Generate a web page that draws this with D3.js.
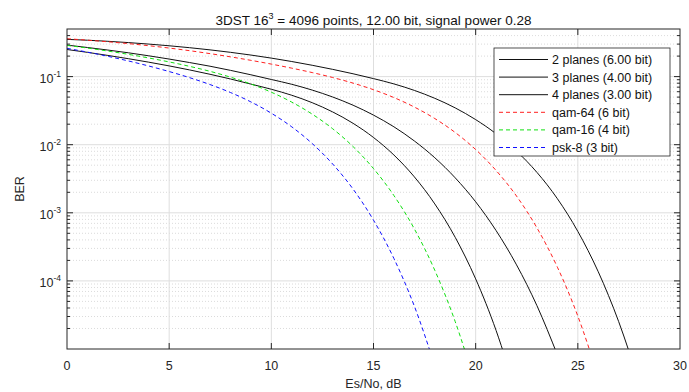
<!DOCTYPE html>
<html>
<head>
<meta charset="utf-8">
<title>3DST BER</title>
<script src="https://d3js.org/d3.v7.min.js"></script>
<style>
  body { margin: 0; background: #fff; }
  svg { display: block; font-family: "Liberation Sans", Arial, Helvetica, sans-serif; }
</style>
</head>
<body>
<div id="chart"></div>
<script>
// ---- data ----
const esnoPlanes2 = [0,1,2,3,4,5,6,7,8,9,10,11,12,13,14,15,16,17,18,19,20,21,22,23,24,25,26,27,28];
const berPlanes2  = [0.352,0.3423,0.3299,0.3158,0.3002,0.2835,0.2658,0.2469,0.2272,0.2072,0.1868,0.1665,0.1467,0.1278,0.1100,0.0934,0.0781,0.0627,0.0480,0.0347,0.02336,0.01447,0.00804,0.00392,0.00161,5.33e-4,1.36e-4,2.52e-5,3.2e-6];

const esnoPlanes3 = [0,1,2,3,4,5,6,7,8,9,10,11,12,13,14,15,16,17,18,19,20,21,22,23,24];
const berPlanes3  = [0.290,0.2675,0.2454,0.2237,0.2020,0.1810,0.1608,0.1420,0.1235,0.1063,0.0907,0.0771,0.0634,0.0502,0.0380,0.0272,0.0183,0.01135,0.00643,0.00326,0.00145,5.48e-4,1.72e-4,4.32e-5,8.2e-6];

const esnoPlanes4 = [0,1,2,3,4,5,6,7,8,9,10,11,12,13,14,15,16,17,18,19,20,21,22];
const berPlanes4  = [0.250,0.227,0.2046,0.1832,0.1629,0.1436,0.1253,0.1081,0.0923,0.0776,0.0652,0.0532,0.0414,0.0303,0.0206,0.01276,0.00705,0.00337,0.00135,4.36e-4,1.07e-4,1.87e-5,2.14e-6];

const esnoQam64 = [0,1,2,3,4,5,6,7,8,9,10,11,12,13,14,15,16,17,18,19,20,21,22,23,24,25,26];
const berQam64  = [0.360,0.3428,0.3245,0.3050,0.2842,0.2625,0.2401,0.2174,0.1950,0.1733,0.1526,0.1330,0.1146,0.0970,0.0802,0.0642,0.0492,0.0357,0.0242,0.0151,0.00849,0.00418,0.00176,6.0e-4,1.59e-4,3.04e-5,3.9e-6];

const esnoQam16 = [0,1,2,3,4,5,6,7,8,9,10,11,12,13,14,15,16,17,18,19,20];
const berQam16  = [0.2874,0.2625,0.2372,0.2122,0.1877,0.1642,0.1414,0.1195,0.0981,0.0779,0.0590,0.0422,0.0281,0.01716,0.00938,0.00446,0.00179,5.8e-4,1.43e-4,2.52e-5,2.9e-6];

const esnoPsk8 = [0,1,2,3,4,5,6,7,8,9,10,11,12,13,14,15,16,17,18];
const berPsk8  = [0.2599,0.2288,0.1985,0.1699,0.1431,0.1186,0.0965,0.0764,0.0584,0.0425,0.0290,0.01828,0.0104,0.00521,0.00223,7.8e-4,2.13e-4,4.25e-5,5.7e-6];

const legendLabels = ["2 planes (6.00 bit)", "3 planes (4.00 bit)", "4 planes (3.00 bit)",
                      "qam-64 (6 bit)", "qam-16 (4 bit)", "psk-8 (3 bit)"];

const xTicks = [0, 5, 10, 15, 20, 25, 30];
const yTickExponents = [-1, -2, -3, -4];
const xDomain = [0, 30];
const yDomain = [1e-5, 0.5];

// ---- layout ----
const width = 689, height = 392;
const plot = { left: 67, right: 680, top: 29, bottom: 349 };
const axisColor = "#262626";

const series = [
  { x: esnoPlanes2, y: berPlanes2, color: "#111", dash: null },
  { x: esnoPlanes3, y: berPlanes3, color: "#111", dash: null },
  { x: esnoPlanes4, y: berPlanes4, color: "#111", dash: null },
  { x: esnoQam64,   y: berQam64,   color: "#ff2020", dash: "4,3" },
  { x: esnoQam16,   y: berQam16,   color: "#10e010", dash: "4,3" },
  { x: esnoPsk8,    y: berPsk8,    color: "#1010ff", dash: "4,3" }
];
series.forEach((s, i) => s.label = legendLabels[i]);

const x = d3.scaleLinear().domain(xDomain).range([plot.left, plot.right]);
const y = d3.scaleLog().domain(yDomain).range([plot.bottom, plot.top]);

const svg = d3.select("#chart").append("svg")
  .attr("width", width)
  .attr("height", height);

svg.append("defs").append("clipPath").attr("id", "plotclip")
  .append("rect")
  .attr("x", plot.left).attr("y", plot.top)
  .attr("width", plot.right - plot.left)
  .attr("height", plot.bottom - plot.top);

// minor log ticks 2..9 per decade
const minorTicks = [];
for (let k = -5; k <= -1; k++) {
  for (let m = 2; m <= 9; m++) {
    const v = m * Math.pow(10, k);
    if (v > yDomain[0] && v < yDomain[1]) minorTicks.push(v);
  }
}
const majorY = yTickExponents.map(e => Math.pow(10, e));

// ---- grid ----
const grid = svg.append("g");
grid.selectAll(".ygmin").data(minorTicks).enter().append("line")
  .attr("x1", plot.left).attr("x2", plot.right)
  .attr("y1", d => y(d)).attr("y2", d => y(d))
  .attr("stroke", "#d2d2d2").attr("stroke-width", 0.8)
  .attr("stroke-dasharray", "1,2");
grid.selectAll(".ygmaj").data(majorY).enter().append("line")
  .attr("x1", plot.left).attr("x2", plot.right)
  .attr("y1", d => y(d)).attr("y2", d => y(d))
  .attr("stroke", "#dedede").attr("stroke-width", 1);
grid.selectAll(".xg").data(xTicks.slice(1, -1)).enter().append("line")
  .attr("x1", d => x(d)).attr("x2", d => x(d))
  .attr("y1", plot.top).attr("y2", plot.bottom)
  .attr("stroke", "#dedede").attr("stroke-width", 1);

// ---- curves ----
const line = d3.line()
  .x(d => x(d[0]))
  .y(d => y(d[1]))
  .curve(d3.curveMonotoneX);

svg.append("g").attr("clip-path", "url(#plotclip)")
  .selectAll("path").data(series).enter().append("path")
  .attr("d", s => line(s.x.map((v, i) => [v, s.y[i]])))
  .attr("fill", "none")
  .attr("stroke", s => s.color)
  .attr("stroke-width", 1)
  .attr("stroke-dasharray", s => s.dash);

// ---- axes box and ticks ----
const axes = svg.append("g").attr("stroke", axisColor).attr("stroke-width", 1);
axes.append("rect")
  .attr("x", plot.left).attr("y", plot.top)
  .attr("width", plot.right - plot.left)
  .attr("height", plot.bottom - plot.top)
  .attr("fill", "none");

xTicks.slice(1, -1).forEach(t => {
  axes.append("line").attr("x1", x(t)).attr("x2", x(t))
    .attr("y1", plot.bottom).attr("y2", plot.bottom - 6);
  axes.append("line").attr("x1", x(t)).attr("x2", x(t))
    .attr("y1", plot.top).attr("y2", plot.top + 6);
});
majorY.forEach(v => {
  axes.append("line").attr("x1", plot.left).attr("x2", plot.left + 6)
    .attr("y1", y(v)).attr("y2", y(v));
  axes.append("line").attr("x1", plot.right).attr("x2", plot.right - 6)
    .attr("y1", y(v)).attr("y2", y(v));
});
minorTicks.forEach(v => {
  axes.append("line").attr("x1", plot.left).attr("x2", plot.left + 3)
    .attr("y1", y(v)).attr("y2", y(v));
  axes.append("line").attr("x1", plot.right).attr("x2", plot.right - 3)
    .attr("y1", y(v)).attr("y2", y(v));
});

// ---- tick labels ----
svg.append("g").selectAll("text").data(xTicks).enter().append("text")
  .attr("x", d => x(d))
  .attr("y", plot.bottom + 21)
  .attr("text-anchor", "middle")
  .attr("font-size", 12.5)
  .attr("fill", axisColor)
  .text(d => d);

const yl = svg.append("g").selectAll("text").data(yTickExponents).enter().append("text")
  .attr("x", plot.left - 6)
  .attr("y", d => y(Math.pow(10, d)) + 6)
  .attr("text-anchor", "end")
  .attr("fill", axisColor);
yl.append("tspan").attr("font-size", 12.5).text("10");
yl.append("tspan").attr("font-size", 8.5).attr("dy", -6).text(d => "-" + Math.abs(d));

// ---- axis labels and title ----
svg.append("text")
  .attr("x", (plot.left + plot.right) / 2)
  .attr("y", 388)
  .attr("text-anchor", "middle")
  .attr("font-size", 12.5)
  .attr("fill", axisColor)
  .text("Es/No, dB");

svg.append("text")
  .attr("transform", `translate(24,${(plot.top + plot.bottom) / 2}) rotate(-90)`)
  .attr("text-anchor", "middle")
  .attr("font-size", 12.5)
  .attr("fill", axisColor)
  .text("BER");

const title = svg.append("text")
  .attr("x", (plot.left + plot.right) / 2)
  .attr("y", 25)
  .attr("text-anchor", "middle")
  .attr("fill", "#111");
title.append("tspan").attr("font-size", 13.5).text("3DST 16");
title.append("tspan").attr("font-size", 9).attr("dy", -6).text("3");
title.append("tspan").attr("font-size", 13.5).attr("dy", 6).text(" = 4096 points, 12.00 bit, signal power 0.28");

// ---- legend ----
const lg = { x: 494, y: 48, w: 176, h: 108, row: 17.6, first: 11.5 };
const legend = svg.append("g");
legend.append("rect")
  .attr("x", lg.x).attr("y", lg.y)
  .attr("width", lg.w).attr("height", lg.h)
  .attr("fill", "#fff")
  .attr("stroke", axisColor).attr("stroke-width", 0.8);

const items = legend.selectAll(".item").data(series).enter().append("g")
  .attr("transform", (d, i) => `translate(${lg.x},${lg.y + lg.first + i * lg.row})`);
items.append("line")
  .attr("x1", 5).attr("x2", 54)
  .attr("y1", 0).attr("y2", 0)
  .attr("stroke", d => d.color)
  .attr("stroke-width", 1)
  .attr("stroke-dasharray", d => d.dash);
items.append("text")
  .attr("x", 58).attr("y", 4.5)
  .attr("font-size", 12.5)
  .attr("fill", "#111")
  .text(d => d.label);
</script>
</body>
</html>
